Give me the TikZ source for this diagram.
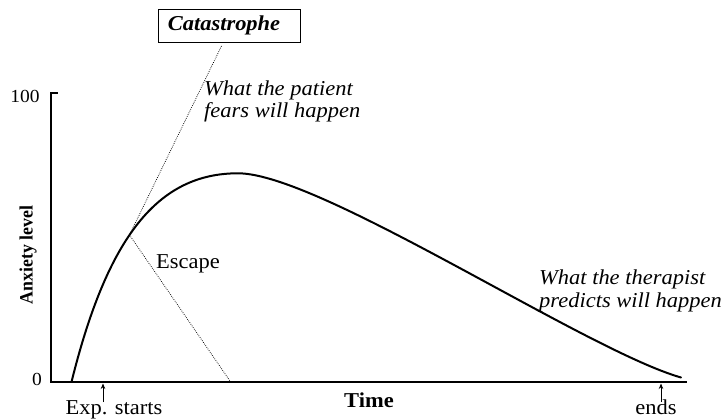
\documentclass[tikz,border=0pt]{standalone}
\usepackage{fontspec}
\usepackage{graphicx}
\setmainfont{Liberation Serif}
\usetikzlibrary{arrows.meta}
% slightly widened lettering, used for every label
\newcommand\wide[1]{\scalebox{1.06}[1]{\begin{tabular}{@{}l@{}}#1\end{tabular}}}

\begin{document}
\begin{tikzpicture}[x=1pt,y=-1pt,
  lbl/.style={inner sep=0pt, font=\fontsize{21.2}{22}\selectfont},
  numlbl/.style={inner sep=0pt, font=\fontsize{18.4}{20}\selectfont},
  boldlbl/.style={inner sep=0pt, font=\fontsize{21.2}{22}\selectfont\bfseries},
  itl/.style={inner sep=0pt, font=\fontsize{21.2}{22.5}\selectfont\itshape},
  catbox/.style={draw, line width=1pt, inner sep=0pt, minimum width=142pt, minimum height=33pt,
    font=\fontsize{21.2}{22}\selectfont\bfseries\itshape},
  axisline/.style={line width=2.2pt},
  curveline/.style={line width=2pt, line cap=round},
  guide/.style={line width=0.75pt, dash pattern=on 0.75pt off 1.25pt},
  tickarrow/.style={line width=0.8pt, -{Stealth[length=5.5pt,width=4.5pt]}}
]
\useasboundingbox (0,0) rectangle (727,419);

% axes
\coordinate (ytick) at (57.5,93);
\coordinate (ytop) at (51,93);
\coordinate (origin) at (51,382);
\coordinate (xend) at (687,382);
\draw[axisline] (ytick) -- (ytop) -- (origin) -- (xend);

\node[numlbl] (hundred) at (25,99) {\wide{100}};
\node[numlbl] (zero) at (37,381) {\wide{0}};
\node[inner sep=0pt, font=\fontsize{17.8}{20}\selectfont\bfseries, rotate=90] (ylabel) at (28,255)
  {\scalebox{1}[1.06]{Anxiety level}};
\node[boldlbl] (time) at (369,403) {\wide{Time}};

% anxiety curve during exposure: rise to a peak, then a slow decline
\coordinate (rise) at (71.5,382);
\coordinate (peak) at (238,173.3);
\coordinate (fade) at (681,377.5);
\draw[curveline] (rise) .. controls (107.5,236.5) and (158,173.3) .. (peak)
  .. controls (320,173.3) and (585,350) .. (fade);

% feared outcome and escape
\node[catbox] (cat) at (229.5,26.5) {\wide{Catastrophe}\hspace*{11pt}};
\coordinate (catfoot) at (221.5,46);
\coordinate (touch) at (129.5,235);
\coordinate (escfoot) at (230,381);
\draw[guide] (catfoot) -- (touch);
\draw[guide] (touch) -- (escfoot);
\node[lbl] (escape) at (188,264) {\wide{Escape}};

\node[itl, anchor=west] (fear) at (204,102) {\wide{What the patient\\fears will happen}};
\node[itl, anchor=west] (predict) at (539,291.5) {\wide{What the therapist\\predicts will happen}};

% start and end of exposure
\node[lbl] (start) at (114,410) {\wide{Exp. starts}};
\node[lbl] (ends) at (656,410) {\wide{ends}};
\coordinate (startfoot) at (103,402);
\coordinate (startaxis) at (103,383.5);
\coordinate (endfoot) at (661,402);
\coordinate (endaxis) at (661,383.5);
\draw[tickarrow] (startfoot) -- (startaxis);
\draw[tickarrow] (endfoot) -- (endaxis);
\end{tikzpicture}
\end{document}
